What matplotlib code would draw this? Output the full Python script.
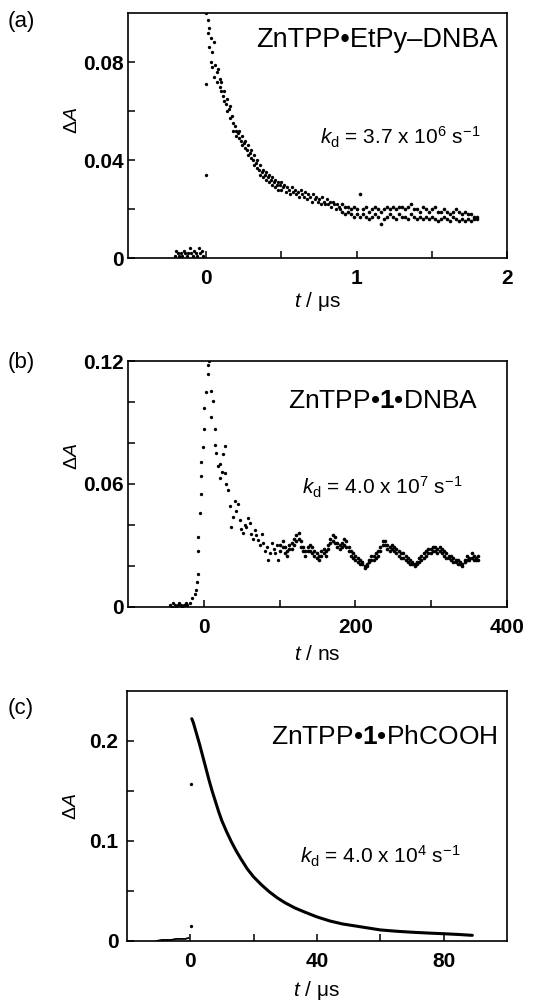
import matplotlib
matplotlib.use("Agg")
import matplotlib.pyplot as plt
import numpy as np

plt.rcParams["font.family"] = ["Liberation Sans", "DejaVu Sans"]
plt.rcParams["mathtext.fontset"] = "custom"
plt.rcParams["mathtext.rm"] = "Liberation Sans"
plt.rcParams["mathtext.it"] = "Liberation Sans:italic"
plt.rcParams["mathtext.bf"] = "Liberation Sans:bold"

# ---- panel (a): ZnTPP-EtPy-DNBA, t in us ----
a_pre = [(-0.21, 0.001), (-0.20, 0.003), (-0.19, 0.002), (-0.18, 0.001), (-0.17, 0.002),
         (-0.16, 0.001), (-0.15, 0.003), (-0.14, 0.002), (-0.13, 0.001), (-0.12, 0.002),
         (-0.11, 0.004), (-0.10, 0.002), (-0.09, 0.001), (-0.08, 0.003), (-0.07, 0.002),
         (-0.06, 0.001), (-0.05, 0.004), (-0.04, 0.002), (-0.03, 0.003), (-0.02, 0.001),
         (0.00, 0.034), (0.00, 0.071)]
a_decay = [(0.00, 0.100), (0.01, 0.097), (0.01, 0.092), (0.02, 0.094), (0.02, 0.086), (0.03, 0.090),
           (0.03, 0.080), (0.04, 0.084), (0.04, 0.078), (0.05, 0.088), (0.05, 0.074), (0.06, 0.079),
           (0.07, 0.076), (0.07, 0.072), (0.08, 0.077), (0.09, 0.073), (0.09, 0.070), (0.10, 0.072),
           (0.10, 0.068), (0.11, 0.066), (0.12, 0.068), (0.12, 0.064), (0.13, 0.063), (0.14, 0.065),
           (0.14, 0.060), (0.15, 0.061), (0.16, 0.062), (0.16, 0.057), (0.17, 0.058), (0.18, 0.055),
           (0.18, 0.052), (0.19, 0.054), (0.20, 0.052), (0.20, 0.050), (0.21, 0.051), (0.22, 0.049),
           (0.22, 0.052), (0.23, 0.048), (0.24, 0.050), (0.24, 0.046), (0.25, 0.047), (0.26, 0.045),
           (0.26, 0.048), (0.27, 0.044), (0.28, 0.046), (0.28, 0.042), (0.29, 0.043), (0.30, 0.041),
           (0.30, 0.044), (0.31, 0.040), (0.32, 0.042), (0.32, 0.038), (0.33, 0.039), (0.34, 0.037),
           (0.34, 0.040), (0.35, 0.036), (0.36, 0.038), (0.36, 0.034), (0.37, 0.035), (0.38, 0.036),
           (0.38, 0.033), (0.39, 0.034), (0.40, 0.035), (0.40, 0.032), (0.41, 0.033), (0.42, 0.031),
           (0.42, 0.034), (0.43, 0.032), (0.44, 0.033), (0.44, 0.030), (0.45, 0.031), (0.46, 0.032),
           (0.46, 0.029), (0.47, 0.030), (0.48, 0.031), (0.48, 0.028), (0.49, 0.030), (0.50, 0.031),
           (0.50, 0.028), (0.51, 0.029), (0.52, 0.030), (0.53, 0.027), (0.54, 0.029), (0.55, 0.028),
           (0.56, 0.026), (0.57, 0.029), (0.58, 0.027), (0.59, 0.028), (0.60, 0.026), (0.61, 0.027),
           (0.62, 0.025), (0.63, 0.028), (0.64, 0.026), (0.65, 0.025), (0.66, 0.027), (0.67, 0.024),
           (0.68, 0.026), (0.69, 0.025), (0.70, 0.023), (0.71, 0.026), (0.72, 0.024), (0.73, 0.025),
           (0.74, 0.023), (0.75, 0.024), (0.76, 0.022), (0.77, 0.025), (0.78, 0.023), (0.79, 0.022),
           (0.80, 0.024), (0.81, 0.022), (0.82, 0.023), (0.83, 0.021), (0.84, 0.023), (0.85, 0.022),
           (0.86, 0.020), (0.87, 0.022), (0.88, 0.021), (0.89, 0.020)]
a_tail_t = [0.90, 0.92, 0.94, 0.96, 0.98, 1.00, 1.02, 1.04, 1.06, 1.08, 1.10, 1.12, 1.14, 1.16,
            1.18, 1.20, 1.22, 1.24, 1.26, 1.28, 1.30, 1.32, 1.34, 1.36, 1.38, 1.40, 1.42, 1.44,
            1.46, 1.48, 1.50, 1.52, 1.54, 1.56, 1.58, 1.60, 1.62, 1.64, 1.66, 1.68, 1.70, 1.72,
            1.74, 1.76, 1.78, 1.80]
a_tail_hi = [0.022, 0.021, 0.021, 0.020, 0.021, 0.020, 0.026, 0.020, 0.021, 0.019, 0.020, 0.021,
             0.020, 0.019, 0.020, 0.021, 0.020, 0.021, 0.020, 0.021, 0.021, 0.020, 0.021, 0.022,
             0.020, 0.020, 0.019, 0.021, 0.020, 0.019, 0.020, 0.021, 0.019, 0.019, 0.020, 0.019,
             0.018, 0.019, 0.020, 0.019, 0.018, 0.019, 0.018, 0.018, 0.017, 0.017]
a_tail_lo = [0.019, 0.018, 0.019, 0.018, 0.017, 0.018, 0.017, 0.018, 0.017, 0.016, 0.017, 0.018,
             0.017, 0.014, 0.016, 0.017, 0.018, 0.017, 0.016, 0.018, 0.017, 0.017, 0.016, 0.018,
             0.017, 0.016, 0.017, 0.016, 0.017, 0.016, 0.017, 0.016, 0.015, 0.016, 0.017, 0.016,
             0.015, 0.017, 0.016, 0.015, 0.016, 0.015, 0.016, 0.015, 0.016, 0.016]

# ---- panel (b): ZnTPP-1-DNBA, t in ns ----
b_pre = [(-44, 0.001), (-42, 0.000), (-40, 0.002), (-38, 0.001), (-36, 0.000), (-34, 0.001),
         (-32, 0.002), (-30, 0.001), (-28, 0.000), (-26, 0.001), (-24, 0.002), (-22, 0.001),
         (-18, 0.002), (-15, 0.004), (-12, 0.006)]
b_rise = [(-10, 0.008), (-9, 0.012), (-8, 0.016), (-8, 0.027), (-7, 0.034), (-5, 0.046),
          (-4, 0.055), (-3, 0.064), (-3, 0.071), (-1, 0.078), (0, 0.087), (1, 0.097),
          (3, 0.105), (5, 0.114), (6, 0.118), (7, 0.120)]
b_decay = [(9.7, 0.093), (9.7, 0.1055), (12, 0.1006), (14.2, 0.087), (14.2, 0.079), (16.4, 0.075),
           (18.6, 0.0687), (20.8, 0.063), (22, 0.070), (24, 0.066), (25.2, 0.0745), (27.5, 0.0785),
           (27.5, 0.0655), (29, 0.060), (31.9, 0.0573), (34.2, 0.049), (36.3, 0.039), (38, 0.044),
           (40.8, 0.0516), (43, 0.0467), (45, 0.050), (47.4, 0.0426), (49, 0.038), (51.8, 0.036),
           (54, 0.040), (56.2, 0.039), (58.5, 0.0435), (60.5, 0.041), (62.9, 0.0353), (65, 0.033),
           (67.4, 0.0377), (69.5, 0.035), (71.8, 0.0328), (74, 0.030), (76.2, 0.0353), (78.5, 0.031),
           (80.7, 0.027), (83, 0.029), (85, 0.023), (87, 0.026), (89.5, 0.031), (92, 0.028),
           (94, 0.0263), (96, 0.030), (98, 0.023)]
b_tail_t = [101, 104, 107, 110, 113, 116, 119, 122, 125, 128, 131, 134, 137, 140, 143, 146, 149,
            152, 155, 158, 161, 164, 167, 170, 173, 176, 179, 182, 185, 188, 191, 194, 197, 200,
            203, 206, 209, 212, 215, 218, 221, 224, 227, 230, 233, 236, 239, 242, 245, 248, 251,
            254, 257, 260, 263, 266, 269, 272, 275, 278, 281, 284, 287, 290, 293, 296, 299, 302,
            305, 308, 311, 314, 317, 320, 323, 326, 329, 332, 335, 338, 341, 344, 347, 350, 353,
            356, 359, 362]
b_tail_hi = [0.030, 0.032, 0.029, 0.027, 0.030, 0.031, 0.033, 0.035, 0.036, 0.032, 0.029, 0.027,
             0.029, 0.030, 0.029, 0.027, 0.026, 0.025, 0.027, 0.028, 0.027, 0.030, 0.033, 0.035,
             0.034, 0.031, 0.030, 0.031, 0.033, 0.032, 0.029, 0.027, 0.026, 0.025, 0.024, 0.023,
             0.022, 0.020, 0.021, 0.023, 0.025, 0.025, 0.026, 0.027, 0.029, 0.032, 0.032, 0.030,
             0.029, 0.030, 0.029, 0.028, 0.027, 0.026, 0.026, 0.025, 0.024, 0.023, 0.022, 0.021,
             0.022, 0.024, 0.025, 0.026, 0.027, 0.028, 0.028, 0.029, 0.029, 0.028, 0.029, 0.028,
             0.027, 0.026, 0.025, 0.025, 0.024, 0.023, 0.023, 0.022, 0.021, 0.023, 0.025, 0.024,
             0.026, 0.025, 0.024, 0.025]
b_tail_lo = [0.027, 0.029, 0.026, 0.025, 0.028, 0.028, 0.030, 0.032, 0.033, 0.029, 0.027, 0.025,
             0.027, 0.027, 0.026, 0.025, 0.024, 0.023, 0.025, 0.026, 0.025, 0.028, 0.031, 0.032,
             0.031, 0.029, 0.028, 0.029, 0.030, 0.029, 0.027, 0.025, 0.024, 0.023, 0.022, 0.021,
             0.021, 0.019, 0.020, 0.022, 0.023, 0.023, 0.024, 0.025, 0.027, 0.030, 0.030, 0.028,
             0.027, 0.028, 0.027, 0.026, 0.025, 0.024, 0.024, 0.023, 0.022, 0.021, 0.021, 0.020,
             0.021, 0.022, 0.023, 0.024, 0.025, 0.026, 0.026, 0.027, 0.027, 0.026, 0.027, 0.026,
             0.025, 0.024, 0.024, 0.023, 0.022, 0.022, 0.021, 0.021, 0.020, 0.022, 0.023, 0.023,
             0.024, 0.023, 0.023, 0.023]

# ---- panel (c): ZnTPP-1-PhCOOH, t in us ----
c_pre = [(-10.5, 0.000), (-9, 0.001), (-7.5, 0.001), (-6, 0.001), (-4.5, 0.002),
         (-3, 0.002), (-1.5, 0.002), (-0.5, 0.003)]
c_outliers = [(0.2, 0.157), (0.2, 0.015)]
c_curve = [(0.5, 0.222), (1.0, 0.218), (2.0, 0.207), (3.0, 0.196), (4.0, 0.184), (5.0, 0.172),
           (6.0, 0.160), (7.0, 0.149), (8.0, 0.139), (9.0, 0.129), (10.0, 0.120), (11.5, 0.109),
           (13.0, 0.099), (14.5, 0.090), (16.0, 0.082), (18.0, 0.072), (20.0, 0.064), (22.5, 0.056),
           (25.0, 0.049), (27.5, 0.043), (30.0, 0.038), (33.0, 0.033), (36.0, 0.029), (40.0, 0.024),
           (44.0, 0.020), (48.0, 0.017), (52.0, 0.015), (56.0, 0.013), (60.0, 0.011), (65.0, 0.0097),
           (70.0, 0.0087), (75.0, 0.0079), (80.0, 0.0072), (85.0, 0.0064), (89.0, 0.0056)]


def dots(ax, pts, ms=2.4):
    t, y = np.array(pts).T
    ax.plot(t, y, "o", color="black", ms=ms, mew=0)


def style(ax, xlim, ylim, xt, xminor, yt, yminor, xlab, ylab, ypad=3):
    ax.set_xlim(xlim)
    ax.set_ylim(ylim)
    ax.set_xticks(xt)
    ax.set_xticklabels(xlab, fontweight="bold")
    ax.set_xticks(xminor, minor=True)
    ax.set_yticks(yt)
    ax.set_yticklabels(ylab, fontweight="bold")
    ax.set_yticks(yminor, minor=True)
    ax.tick_params(which="both", direction="in", length=5, width=1.1, labelsize=15,
                   top=False, right=False)
    ax.tick_params(axis="x", which="both", pad=8)
    ax.tick_params(axis="y", which="both", pad=ypad)
    for s in ax.spines.values():
        s.set_linewidth(1.2)


fig = plt.figure(figsize=(5.35, 10.01), dpi=100)

# (a)
ax = fig.add_axes([0.239, 0.742, 0.709, 0.245])
dots(ax, a_pre)
dots(ax, a_decay)
ax.plot(a_tail_t, a_tail_hi, "o", color="black", ms=2.6, mew=0)
ax.plot(a_tail_t, a_tail_lo, "o", color="black", ms=2.6, mew=0)
style(ax, (-0.52, 2), (0, 0.1), [0, 1, 2], [0.5, 1.5], [0, 0.04, 0.08], [0.02, 0.06],
      ["0", "1", "2"], ["0", "0.04", "0.08"])
ax.text(0.974, 0.89, "ZnTPP•EtPy–DNBA", transform=ax.transAxes, ha="right", va="center", fontsize=19.5)
ax.text(0.93, 0.494, r"$k_\mathrm{d}$ = 3.7 x 10$^6$ s$^{-1}$", transform=ax.transAxes,
        ha="right", va="center", fontsize=15)
ax.text(-0.145, 0.563, r"Δ$A$", transform=ax.transAxes, rotation=90, ha="center", va="center", fontsize=14)
ax.text(0.499, -0.175, r"$t$ / μs", transform=ax.transAxes, ha="center", va="center", fontsize=15)
fig.text(0.014, 0.979, "(a)", ha="left", va="center", fontsize=16)

# (b)
ax = fig.add_axes([0.239, 0.394, 0.709, 0.245])
dots(ax, b_pre)
dots(ax, b_rise)
dots(ax, b_decay)
ax.plot(b_tail_t, b_tail_hi, "o", color="black", ms=2.6, mew=0)
ax.plot(b_tail_t, b_tail_lo, "o", color="black", ms=2.6, mew=0)
style(ax, (-100, 400), (0, 0.12), [0, 200, 400], [100, 300], [0, 0.06, 0.12],
      [0.02, 0.04, 0.08, 0.10], ["0", "200", "400"], ["0", "0.06", "0.12"])
ax.text(0.923, 0.837, r"ZnTPP•$\mathbf{1}$•DNBA", transform=ax.transAxes, ha="right", va="center",
        fontsize=19)
ax.text(0.881, 0.486, r"$k_\mathrm{d}$ = 4.0 x 10$^7$ s$^{-1}$", transform=ax.transAxes,
        ha="right", va="center", fontsize=15)
ax.text(-0.145, 0.612, r"Δ$A$", transform=ax.transAxes, rotation=90, ha="center", va="center", fontsize=14)
ax.text(0.499, -0.196, r"$t$ / ns", transform=ax.transAxes, ha="center", va="center", fontsize=15)
fig.text(0.014, 0.638, "(b)", ha="left", va="center", fontsize=16)

# (c)
ax = fig.add_axes([0.237, 0.060, 0.711, 0.250])
t, y = np.array(c_pre).T
ax.plot(t, y, "-", color="black", lw=1.3)
dots(ax, c_outliers)
t, y = np.array(c_curve).T
ax.plot(t, y, "-", color="black", lw=2.2, solid_capstyle="round")
style(ax, (-20, 100), (0, 0.25), [0, 40, 80], [20, 60], [0, 0.1, 0.2], [0.05, 0.15],
      ["0", "40", "80"], ["0", "0.1", "0.2"], ypad=6)
ax.text(0.974, 0.816, r"ZnTPP•$\mathbf{1}$•PhCOOH", transform=ax.transAxes, ha="right", va="center",
        fontsize=19)
ax.text(0.876, 0.336, r"$k_\mathrm{d}$ = 4.0 x 10$^4$ s$^{-1}$", transform=ax.transAxes,
        ha="right", va="center", fontsize=15)
ax.text(-0.145, 0.536, r"Δ$A$", transform=ax.transAxes, rotation=90, ha="center", va="center", fontsize=14)
ax.text(0.499, -0.2, r"$t$ / μs", transform=ax.transAxes, ha="center", va="center", fontsize=15)
fig.text(0.014, 0.292, "(c)", ha="left", va="center", fontsize=16)

fig.savefig("out.png", dpi=100)
